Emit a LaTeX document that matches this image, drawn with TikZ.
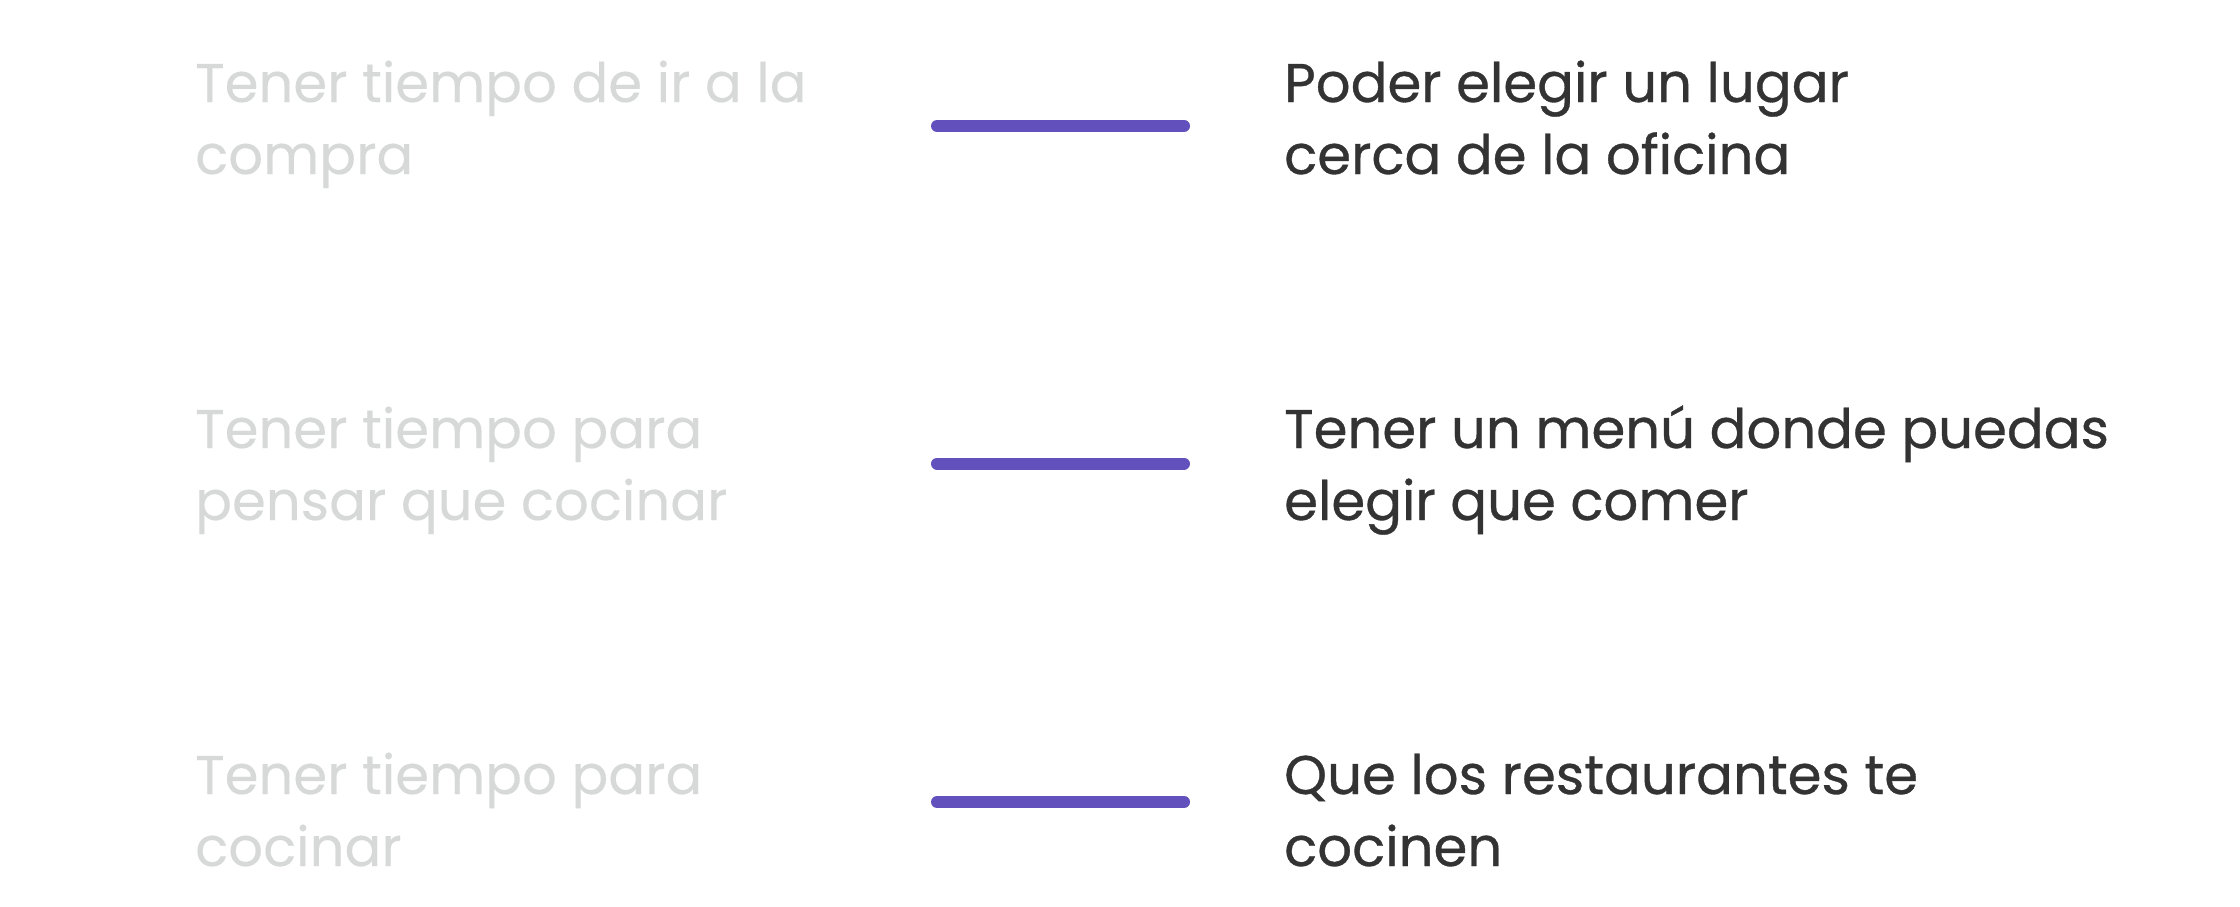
\documentclass[tikz,border=0pt]{standalone}
\usepackage{fontspec}
\setmainfont{Poppins}
\newfontfamily\leftfont[FakeBold=0.25]{Poppins}
\newfontfamily\rightfont[FakeBold=0.6]{Poppins}
\definecolor{lightgraytxt}{HTML}{D6D9D8}
\definecolor{darktxt}{HTML}{333333}
\definecolor{barviolet}{HTML}{6251BC}
\begin{document}
\begin{tikzpicture}[x=1pt,y=1pt,
  lefttxt/.style={anchor=base west,inner sep=0pt,align=left,text=lightgraytxt,
    font=\leftfont\fontsize{54.5}{72}\selectfont},
  righttxt/.style={anchor=base west,inner sep=0pt,align=left,text=darktxt,
    font=\rightfont\fontsize{54.5}{72}\selectfont},
  barline/.style={line width=12pt,line cap=round,draw=barviolet}]
\useasboundingbox (0,0) rectangle (2240,-906);
% left column
\node[lefttxt] (l1) at (195,-174) {Tener tiempo de ir a la\\compra};
\node[lefttxt] (l2) at (195,-520) {Tener tiempo para\\pensar que cocinar};
\node[lefttxt] (l3) at (195,-866) {Tener tiempo para\\cocinar};
% right column
\node[righttxt] (r1) at (1284,-174) {Poder elegir un lugar\\cerca de la oficina};
\node[righttxt] (r2) at (1284,-520) {Tener un menú donde puedas\\elegir que comer};
\node[righttxt] (r3) at (1284,-866) {Que los restaurantes te\\cocinen};
% bars
\coordinate (b1s) at (937,-126);   \coordinate (b1e) at (1184,-126);
\coordinate (b2s) at (937,-463.5); \coordinate (b2e) at (1184,-463.5);
\coordinate (b3s) at (937,-802);   \coordinate (b3e) at (1184,-802);
\draw[barline] (b1s) -- (b1e);
\draw[barline] (b2s) -- (b2e);
\draw[barline] (b3s) -- (b3e);
\end{tikzpicture}
\end{document}
